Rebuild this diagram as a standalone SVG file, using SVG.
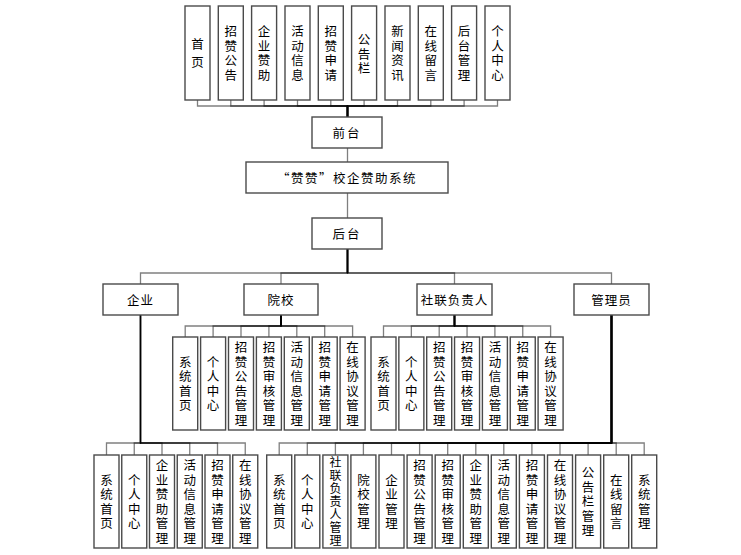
<svg xmlns="http://www.w3.org/2000/svg" width="741" height="555" viewBox="0 0 741 555">
<style>
.b{fill:#fff;stroke:#4a4a4a;stroke-width:1.4}
.t{font-family:"Noto Sans CJK SC","Liberation Sans",sans-serif;font-size:12.5px;fill:#000;text-anchor:middle;dominant-baseline:central}
.v{font-family:"Noto Sans CJK SC","Liberation Sans",sans-serif;font-size:12.5px;fill:#000;text-anchor:middle;writing-mode:vertical-rl;text-orientation:upright;letter-spacing:2px}
.s7{font-size:12px;letter-spacing:1px}
.s2{letter-spacing:5.5px}
.c{fill:none;stroke:#000;stroke-opacity:.5;stroke-width:1.3}
.k{fill:none;stroke:#000;stroke-width:2}
</style>
<rect width="741" height="555" fill="#fff"/>
<g id="connectors">
<path class="c" d="M197.5 100V106H347.5V117"/>
<path class="c" d="M230.8 100V106H347.5V117"/>
<path class="c" d="M264.1 100V106H347.5V117"/>
<path class="c" d="M297.5 100V106H347.5V117"/>
<path class="c" d="M330.8 100V106H347.5V117"/>
<path class="c" d="M364.1 100V106H347.5V117"/>
<path class="c" d="M397.5 100V106H347.5V117"/>
<path class="c" d="M430.8 100V106H347.5V117"/>
<path class="c" d="M464.1 100V106H347.5V117"/>
<path class="c" d="M497.5 100V106H347.5V117"/>
<path class="k" d="M347.5 106V117"/>
<path class="c" d="M347.5 148V162"/>
<path class="c" d="M347.5 193V218"/>
<path class="c" d="M347.5 249V273H140.5V284"/>
<path class="c" d="M347.5 249V273H281V284"/>
<path class="c" d="M347.5 249V273H454.5V284"/>
<path class="c" d="M347.5 249V273H611.5V284"/>
<path class="k" d="M347.5 249V273"/>
<path class="c" d="M281 315V326H185.2V337"/>
<path class="c" d="M281 315V326H213.1V337"/>
<path class="c" d="M281 315V326H241V337"/>
<path class="c" d="M281 315V326H268.9V337"/>
<path class="c" d="M281 315V326H296.8V337"/>
<path class="c" d="M281 315V326H324.7V337"/>
<path class="c" d="M281 315V326H352.6V337"/>
<path class="k" d="M281 315V326"/>
<path class="c" d="M454.5 315V326H383.5V337"/>
<path class="c" d="M454.5 315V326H411.35V337"/>
<path class="c" d="M454.5 315V326H439.2V337"/>
<path class="c" d="M454.5 315V326H467.05V337"/>
<path class="c" d="M454.5 315V326H494.9V337"/>
<path class="c" d="M454.5 315V326H522.75V337"/>
<path class="c" d="M454.5 315V326H550.6V337"/>
<path class="k" d="M454.5 315V326"/>
<path class="c" d="M140.5 315V443H106.5V455"/>
<path class="c" d="M140.5 315V443H134.25V455"/>
<path class="c" d="M140.5 315V443H162V455"/>
<path class="c" d="M140.5 315V443H189.75V455"/>
<path class="c" d="M140.5 315V443H217.5V455"/>
<path class="c" d="M140.5 315V443H245.25V455"/>
<path class="c" d="M140.5 315V443"/>
<path class="c" d="M611.5 315V443H279.2V455"/>
<path class="c" d="M611.5 315V443H307.3V455"/>
<path class="c" d="M611.5 315V443H335.4V455"/>
<path class="c" d="M611.5 315V443H363.4V455"/>
<path class="c" d="M611.5 315V443H391.5V455"/>
<path class="c" d="M611.5 315V443H419.6V455"/>
<path class="c" d="M611.5 315V443H447.7V455"/>
<path class="c" d="M611.5 315V443H475.8V455"/>
<path class="c" d="M611.5 315V443H503.8V455"/>
<path class="c" d="M611.5 315V443H531.9V455"/>
<path class="c" d="M611.5 315V443H560V455"/>
<path class="c" d="M611.5 315V443H588.1V455"/>
<path class="c" d="M611.5 315V443H616.2V455"/>
<path class="c" d="M611.5 315V443H644.2V455"/>
<path class="k" d="M611.5 315V443"/>
</g>

<g id="n-shouye"><rect class="b" x="185" y="6" width="25" height="94"/><text class="v s2" x="197.5" y="55.75">首页</text></g>
<g id="n-zzgg"><rect class="b" x="218.3" y="6" width="25" height="94"/><text class="v" x="230.8" y="54">招赞公告</text></g>
<g id="n-qyzz"><rect class="b" x="251.6" y="6" width="25" height="94"/><text class="v" x="264.1" y="54">企业赞助</text></g>
<g id="n-hdxx"><rect class="b" x="285" y="6" width="25" height="94"/><text class="v" x="297.5" y="54">活动信息</text></g>
<g id="n-zzsq"><rect class="b" x="318.3" y="6" width="25" height="94"/><text class="v" x="330.8" y="54">招赞申请</text></g>
<g id="n-ggl"><rect class="b" x="351.6" y="6" width="25" height="94"/><text class="v" x="364.1" y="55">公告栏</text></g>
<g id="n-xwzx"><rect class="b" x="385" y="6" width="25" height="94"/><text class="v" x="397.5" y="54">新闻资讯</text></g>
<g id="n-zxly"><rect class="b" x="418.3" y="6" width="25" height="94"/><text class="v" x="430.8" y="54">在线留言</text></g>
<g id="n-htgl"><rect class="b" x="451.6" y="6" width="25" height="94"/><text class="v" x="464.1" y="54">后台管理</text></g>
<g id="n-grzx"><rect class="b" x="485" y="6" width="25" height="94"/><text class="v" x="497.5" y="54">个人中心</text></g>

<g id="n-qiantai"><rect class="b" x="312" y="117" width="70" height="31"/><text class="t" x="347" y="132.5" letter-spacing="2">前台</text></g>
<g id="n-system"><rect class="b" x="246" y="162" width="202" height="31"/><text class="t" x="347" y="177.5" letter-spacing="1.5">“赞赞”校企赞助系统</text></g>
<g id="n-houtai"><rect class="b" x="312" y="218" width="70" height="31"/><text class="t" x="347" y="233.5" letter-spacing="2">后台</text></g>

<g id="n-qiye"><rect class="b" x="103" y="284" width="75" height="31"/><text class="t" x="140.5" y="299.5" letter-spacing="1">企业</text></g>
<g id="n-yuanxiao"><rect class="b" x="244" y="284" width="74" height="31"/><text class="t" x="281" y="299.5" letter-spacing="1">院校</text></g>
<g id="n-shelian"><rect class="b" x="417" y="284" width="75" height="31"/><text class="t" x="454.5" y="299.5" letter-spacing="1">社联负责人</text></g>
<g id="n-admin"><rect class="b" x="574" y="284" width="75" height="31"/><text class="t" x="611.5" y="299.5" letter-spacing="1">管理员</text></g>

<g id="y1"><rect class="b" x="172.7" y="337" width="25" height="93"/><text class="v" x="185.2" y="384.5">系统首页</text></g>
<g id="y2"><rect class="b" x="200.6" y="337" width="25" height="93"/><text class="v" x="213.1" y="384.5">个人中心</text></g>
<g id="y3"><rect class="b" x="228.5" y="337" width="25" height="93"/><text class="v" x="241" y="384.5">招赞公告管理</text></g>
<g id="y4"><rect class="b" x="256.4" y="337" width="25" height="93"/><text class="v" x="268.9" y="384.5">招赞审核管理</text></g>
<g id="y5"><rect class="b" x="284.3" y="337" width="25" height="93"/><text class="v" x="296.8" y="384.5">活动信息管理</text></g>
<g id="y6"><rect class="b" x="312.2" y="337" width="25" height="93"/><text class="v" x="324.7" y="384.5">招赞申请管理</text></g>
<g id="y7"><rect class="b" x="340.1" y="337" width="25" height="93"/><text class="v" x="352.6" y="384.5">在线协议管理</text></g>

<g id="s1"><rect class="b" x="371" y="337" width="25" height="93"/><text class="v" x="383.5" y="384.5">系统首页</text></g>
<g id="s2"><rect class="b" x="398.85" y="337" width="25" height="93"/><text class="v" x="411.35" y="384.5">个人中心</text></g>
<g id="s3"><rect class="b" x="426.7" y="337" width="25" height="93"/><text class="v" x="439.2" y="384.5">招赞公告管理</text></g>
<g id="s4"><rect class="b" x="454.55" y="337" width="25" height="93"/><text class="v" x="467.05" y="384.5">招赞审核管理</text></g>
<g id="s5"><rect class="b" x="482.4" y="337" width="25" height="93"/><text class="v" x="494.9" y="384.5">活动信息管理</text></g>
<g id="s6"><rect class="b" x="510.25" y="337" width="25" height="93"/><text class="v" x="522.75" y="384.5">招赞申请管理</text></g>
<g id="s7"><rect class="b" x="538.1" y="337" width="25" height="93"/><text class="v" x="550.6" y="384.5">在线协议管理</text></g>

<g id="q1"><rect class="b" x="94" y="455" width="25" height="93"/><text class="v" x="106.5" y="502.5">系统首页</text></g>
<g id="q2"><rect class="b" x="121.75" y="455" width="25" height="93"/><text class="v" x="134.25" y="502.5">个人中心</text></g>
<g id="q3"><rect class="b" x="149.5" y="455" width="25" height="93"/><text class="v" x="162" y="502.5">企业赞助管理</text></g>
<g id="q4"><rect class="b" x="177.25" y="455" width="25" height="93"/><text class="v" x="189.75" y="502.5">活动信息管理</text></g>
<g id="q5"><rect class="b" x="205" y="455" width="25" height="93"/><text class="v" x="217.5" y="502.5">招赞申请管理</text></g>
<g id="q6"><rect class="b" x="232.75" y="455" width="25" height="93"/><text class="v" x="245.25" y="502.5">在线协议管理</text></g>

<g id="a1"><rect class="b" x="266.7" y="455" width="25" height="93"/><text class="v" x="279.2" y="502.5">系统首页</text></g>
<g id="a2"><rect class="b" x="294.8" y="455" width="25" height="93"/><text class="v" x="307.3" y="502.5">个人中心</text></g>
<g id="a3"><rect class="b" x="322.9" y="455" width="25" height="93"/><text class="v s7" x="335.4" y="502">社联负责人管理</text></g>
<g id="a4"><rect class="b" x="350.9" y="455" width="25" height="93"/><text class="v" x="363.4" y="502.5">院校管理</text></g>
<g id="a5"><rect class="b" x="379" y="455" width="25" height="93"/><text class="v" x="391.5" y="502.5">企业管理</text></g>
<g id="a6"><rect class="b" x="407.1" y="455" width="25" height="93"/><text class="v" x="419.6" y="502.5">招赞公告管理</text></g>
<g id="a7"><rect class="b" x="435.2" y="455" width="25" height="93"/><text class="v" x="447.7" y="502.5">招赞审核管理</text></g>
<g id="a8"><rect class="b" x="463.3" y="455" width="25" height="93"/><text class="v" x="475.8" y="502.5">企业赞助管理</text></g>
<g id="a9"><rect class="b" x="491.3" y="455" width="25" height="93"/><text class="v" x="503.8" y="502.5">活动信息管理</text></g>
<g id="a10"><rect class="b" x="519.4" y="455" width="25" height="93"/><text class="v" x="531.9" y="502.5">招赞申请管理</text></g>
<g id="a11"><rect class="b" x="547.5" y="455" width="25" height="93"/><text class="v" x="560" y="502.5">在线协议管理</text></g>
<g id="a12"><rect class="b" x="575.6" y="455" width="25" height="93"/><text class="v" x="588.1" y="502.5">公告栏管理</text></g>
<g id="a13"><rect class="b" x="603.7" y="455" width="25" height="93"/><text class="v" x="616.2" y="502.5">在线留言</text></g>
<g id="a14"><rect class="b" x="631.7" y="455" width="25" height="93"/><text class="v" x="644.2" y="502.5">系统管理</text></g>
</svg>
